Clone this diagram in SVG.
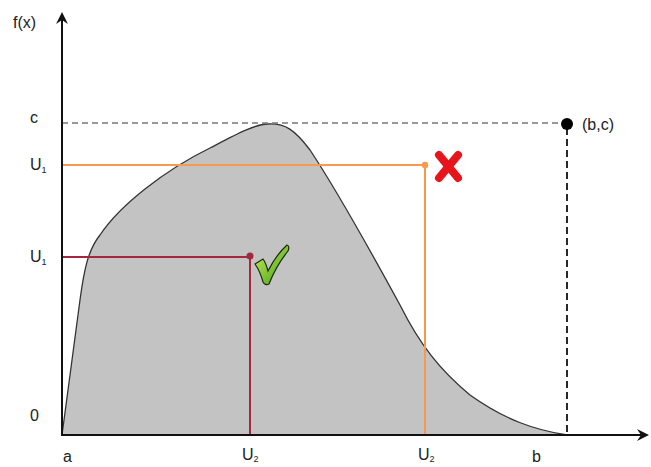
<svg xmlns="http://www.w3.org/2000/svg" width="651" height="467" viewBox="0 0 651 467">
<style>
text{font-family:"Liberation Sans",Arial,sans-serif;font-size:16px;fill:#222}
.sub{font-size:9px}
.axis{stroke:#111;stroke-width:2;fill:none}
.orange{stroke:#f8994f;stroke-width:2;fill:none}
.red{stroke:#a3283e;stroke-width:2;fill:none}
.dash{stroke:#777;stroke-width:1.5;stroke-dasharray:6,4;fill:none}
.dashk{stroke:#111;stroke-width:1.8;stroke-dasharray:7,4;fill:none}
</style>
<defs>
<marker id="ah" viewBox="0 0 12 12" refX="10" refY="6" markerWidth="6" markerHeight="6" markerUnits="strokeWidth" orient="auto">
<path d="M0,0 L12,6 L0,12 L4,6 Z" fill="#111"/>
</marker>
<linearGradient id="gg" x1="0" y1="0" x2="1" y2="1">
<stop offset="0" stop-color="#c8f060"/>
<stop offset="1" stop-color="#3f9a10"/>
</linearGradient>
</defs>
<g id="curve">
<path d="M62,435 L80,300 C84,270 88,250 100,235 C120,205 165,170 210,148 C235,135 255,124 268,124 C285,123 295,130 310,150 C330,180 370,250 400,305 C420,345 440,370 470,395 C505,420 535,430 567,435 Z" fill="#c3c3c3" stroke="#333" stroke-width="1.3"/>
</g>
<g id="connectors">
<line class="dash" x1="62" y1="123" x2="562" y2="123"/>
<line class="dashk" x1="567" y1="128" x2="567" y2="434"/>
<polyline class="orange" points="62,165 425,165 425,435"/>
<polyline class="red" points="62,257 250,257 250,435"/>
<line class="axis" x1="62" y1="436" x2="62" y2="14" marker-end="url(#ah)"/>
<line class="axis" x1="61" y1="435" x2="647" y2="435" marker-end="url(#ah)"/>
</g>
<g id="points">
<circle cx="567" cy="124" r="6" fill="#000"/>
<circle cx="425" cy="165" r="3.2" fill="#f8994f"/>
<circle cx="250" cy="256" r="3.5" fill="#a3283e"/>
</g>
<g id="marks">
<g id="cross" stroke="#e8141c" stroke-width="8" stroke-linecap="round">
<line x1="439" y1="155" x2="458" y2="178"/>
<line x1="458" y1="155" x2="439" y2="178"/>
</g>
<path id="check" d="M255,264 L263,259 Q266,263 268,271 Q276,255 287,245 Q290,246 288,251 Q276,266 269,284 Q265,286 263,282 Q260,271 255,264 Z" fill="url(#gg)" stroke="#1a2a08" stroke-width="1.2"/>
</g>
<g id="labels">
<text x="13" y="28">f(x)</text>
<text x="30" y="123">c</text>
<text x="30" y="170">U<tspan class="sub" dy="3">1</tspan></text>
<text x="30" y="262">U<tspan class="sub" dy="3">1</tspan></text>
<text x="30" y="421">0</text>
<text x="63" y="462">a</text>
<text x="242" y="460">U<tspan class="sub" dy="2">2</tspan></text>
<text x="418" y="460">U<tspan class="sub" dy="2">2</tspan></text>
<text x="532" y="462">b</text>
<text x="582" y="130">(b,c)</text>
</g>
</svg>
